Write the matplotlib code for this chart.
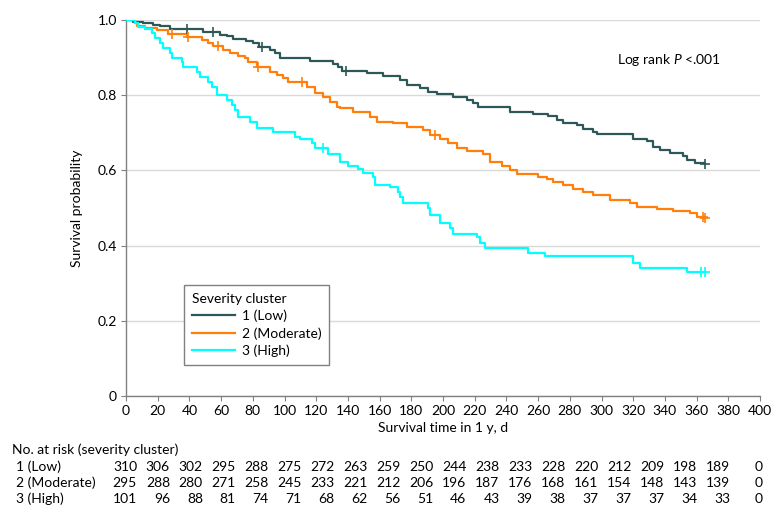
import numpy as np
import matplotlib
matplotlib.use("Agg")
from matplotlib import pyplot as plt

plt.rcParams['font.family'] = ['Lato', 'DejaVu Sans']
plt.rcParams['mathtext.fontset'] = 'custom'
plt.rcParams['mathtext.rm'] = 'Lato'
plt.rcParams['mathtext.it'] = 'Lato:italic'

# Kaplan-Meier steps (days, survival)
low_t = [0, 4.6, 10.9, 17.2, 21.5, 27.8, 48.8, 59.3, 63.5, 67.7, 76, 80.3, 84, 90.9, 94, 97.2,
         116, 130.7, 134, 136, 151.8, 162.4, 172.9, 177, 185.5, 190.8, 196, 206.5, 215, 219, 222,
         242, 257, 266.4, 271.7, 276, 284.3, 288.5, 294.8, 297, 320, 328.5, 332.7, 337, 343,
         351.6, 353.7, 359, 365]
low_s = [1.0, 0.996, 0.992, 0.988, 0.984, 0.976, 0.969, 0.96, 0.957, 0.95, 0.945, 0.938, 0.929, 0.92, 0.911, 0.9,
         0.89, 0.883, 0.875, 0.865, 0.86, 0.851, 0.84, 0.827, 0.82, 0.809, 0.802, 0.796, 0.788, 0.78, 0.769,
         0.756, 0.751, 0.745, 0.734, 0.727, 0.721, 0.71, 0.702, 0.697, 0.683, 0.677, 0.663, 0.655, 0.645,
         0.637, 0.628, 0.619, 0.617]
low_cens = [38.5, 55, 86, 138.6, 365]

mod_t = [0, 5.7, 6.7, 12, 19.4, 26.5, 38.3, 47.8, 51.9, 55.1, 61.4, 65.6, 70.9, 75.1, 77.2,
         82.5, 90.9, 95.1, 99.2, 102.4, 114, 119.2, 124.5, 128.7, 132.9, 135, 143.4, 153.9, 158.2, 168.6,
         177.1, 187.6, 192, 198.1, 203.3, 208.6, 215, 225.4, 229.7, 237, 242.3, 246.5, 260.1, 265.4, 269.6,
         275.9, 282.2, 288.5, 294.8, 305.4, 318, 322.2, 334.8, 345.3, 355.8, 360.1, 365]
mod_s = [1.0, 0.991, 0.985, 0.98, 0.973, 0.964, 0.956, 0.947, 0.938, 0.931, 0.92, 0.911, 0.905, 0.898, 0.889,
         0.876, 0.863, 0.854, 0.845, 0.836, 0.823, 0.805, 0.796, 0.783, 0.769, 0.765, 0.754, 0.743, 0.729, 0.725,
         0.716, 0.707, 0.694, 0.683, 0.672, 0.659, 0.652, 0.644, 0.623, 0.612, 0.601, 0.59, 0.583, 0.577, 0.57,
         0.561, 0.55, 0.543, 0.535, 0.521, 0.512, 0.503, 0.497, 0.493, 0.486, 0.477, 0.473]
mod_cens = [28.8, 39.3, 58.2, 83.5, 110.8, 195, 364, 365.5]

high_t = [0, 5.7, 7.8, 12, 16.2, 18.3, 21.5, 23.6, 27.8, 28.8, 35.1, 36.2, 44.6, 46.7, 51.9,
          54.1, 57.2, 63.5, 66.7, 68.8, 70.9, 78.2, 82.5, 92.9, 106.6, 109.8, 117.2, 119.2, 127.6, 135,
          140.3, 146.6, 149.7, 156, 157.1, 166.6, 171.8, 172.9, 175, 190.7, 191.8, 198.1, 204.4, 206.5, 221.3,
          223.3, 226.5, 253.8, 264.4, 320, 324.3, 353.7, 365]
high_s = [1.0, 0.991, 0.982, 0.977, 0.965, 0.951, 0.938, 0.925, 0.911, 0.9, 0.889, 0.876, 0.863, 0.849, 0.836,
          0.823, 0.8, 0.787, 0.774, 0.761, 0.743, 0.729, 0.712, 0.703, 0.69, 0.684, 0.672, 0.659, 0.643, 0.623,
          0.612, 0.605, 0.592, 0.583, 0.561, 0.555, 0.543, 0.53, 0.512, 0.499, 0.481, 0.461, 0.446, 0.431, 0.424,
          0.406, 0.393, 0.381, 0.372, 0.353, 0.341, 0.331, 0.331]
high_cens = [124.5, 363, 365.5]

labels = ['1 (Low)', '2 (Moderate)', '3 (High)']
colors = ['#2E5757', '#FF7F0A', '#00FFFF']

# numbers at risk
risk_low = [310, 306, 302, 295, 288, 275, 272, 263, 259, 250, 244, 238, 233, 228, 220, 212, 209, 198, 189, 0]
risk_mod = [295, 288, 280, 271, 258, 245, 233, 221, 212, 206, 196, 187, 176, 168, 161, 154, 148, 143, 139, 0]
risk_high = [101, 96, 88, 81, 74, 71, 68, 62, 56, 51, 46, 43, 39, 38, 37, 37, 37, 34, 33, 0]

FS = 10
W, H = 783, 520
fig = plt.figure(figsize=(W / 100, H / 100), dpi=100)
ax = fig.add_axes([126 / W, 1 - 396 / H, 634 / W, 376 / H])

curves = [(low_t, low_s, low_cens), (mod_t, mod_s, mod_cens), (high_t, high_s, high_cens)]
for (t, s, cens), lab, c in zip(curves, labels, colors):
    ax.step(t, s, where='post', color=c, lw=1.6, label=lab, zorder=3)
    idx = np.searchsorted(t, cens, side='right') - 1
    ax.plot(cens, np.array(s)[idx], ls='none', marker='+', ms=7, mew=1.2, color=c, zorder=4)

ax.set_xlim(0, 400)
ax.set_ylim(0, 1.0)
ax.set_xticks(np.arange(0, 401, 20))
ax.set_yticks([0, 0.2, 0.4, 0.6, 0.8, 1.0])
ax.set_yticklabels(['0', '0.2', '0.4', '0.6', '0.8', '1.0'])
ax.yaxis.grid(True, color='#d9d9d9', lw=1)
ax.set_axisbelow(True)
for sp in ['top', 'right']:
    ax.spines[sp].set_visible(False)
for sp in ['left', 'bottom']:
    ax.spines[sp].set_color('#808080')
    ax.spines[sp].set_linewidth(1)
ax.tick_params(direction='out', length=3.5, color='#808080', labelsize=FS, pad=3)

ax.set_xlabel('Survival time in 1 y, d', fontsize=FS)
ax.xaxis.set_label_coords(0.5, -0.068)
ax.set_ylabel('Survival probability', fontsize=FS)
ax.yaxis.set_label_coords(-0.068, 0.5)

ax.text(0.774, 0.894, r'Log rank $P$ <.001', transform=ax.transAxes, fontsize=FS, va='center')

leg = ax.legend(title='Severity cluster', loc='upper left', bbox_to_anchor=(0.092, 0.295),
                borderaxespad=0, fontsize=FS, title_fontsize=FS, handlelength=3.1,
                labelspacing=0.35, handletextpad=0.5, fancybox=False, framealpha=1,
                borderpad=0.55)
leg._legend_box.align = 'left'
leg.get_frame().set_edgecolor('#808080')
leg.get_frame().set_linewidth(1)

# number-at-risk table
fig.text(12 / W, 1 - 450 / H, 'No. at risk (severity cluster)', fontsize=FS, va='center')
rows = [risk_low, risk_mod, risk_high]
row_y = [467, 483, 499]
for lab, vals, y in zip(labels, rows, row_y):
    fig.text(16 / W, 1 - y / H, lab, fontsize=FS, va='center')
    for i, v in enumerate(vals):
        fig.text((137 + i * 32.95) / W, 1 - y / H, str(v), fontsize=FS, va='center', ha='right')

fig.savefig('out.png', dpi=100)
